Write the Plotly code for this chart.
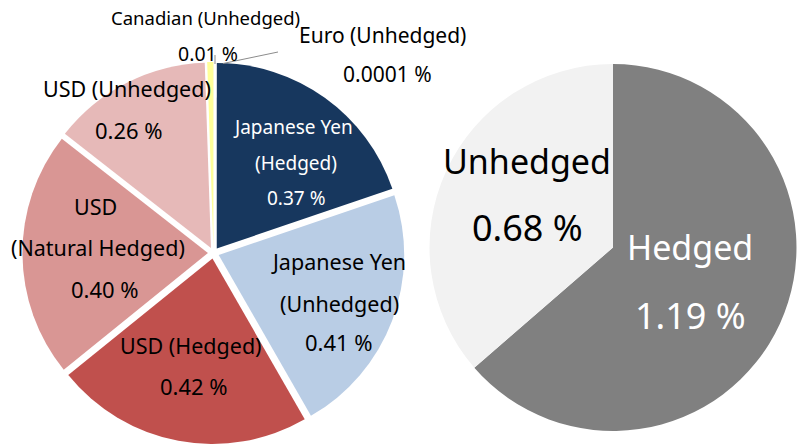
import plotly.graph_objects as go

W, H = 799, 445

# ---- data ----
left_labels = ["Euro (Unhedged)", "Japanese Yen (Hedged)", "Japanese Yen (Unhedged)",
               "USD (Hedged)", "USD (Natural Hedged)", "USD (Unhedged)", "Canadian (Unhedged)"]
left_values = [0.0001, 0.37, 0.41, 0.42, 0.40, 0.26, 0.01]
left_colors = ["#9BBB59", "#17375E", "#B9CDE5", "#C0504D", "#D99694", "#E6B9B8", "#FFFF99"]

right_labels = ["Hedged", "Unhedged"]
right_values = [1.19, 0.68]
right_colors = ["#808080", "#F2F2F2"]

FONT = "Noto Sans"


def px(x):
    return x / W


def py(y):
    return 1 - y / H


fig = go.Figure()
fig.add_trace(go.Pie(
    labels=left_labels, values=left_values, sort=False, direction="clockwise",
    rotation=0, pull=[0.03] * len(left_values),
    marker=dict(colors=left_colors, line=dict(width=0)),
    textinfo="none", showlegend=False,
    domain=dict(x=[0.0281, 0.5063], y=[0.0021, 0.8609]),
))
fig.add_trace(go.Pie(
    labels=right_labels, values=right_values, sort=False, direction="clockwise",
    rotation=0,
    marker=dict(colors=right_colors, line=dict(width=0)),
    textinfo="none", showlegend=False,
    domain=dict(x=[0.5375, 0.9969], y=[0.0315, 0.8562]),
))

# label lines: (text, x_center_px, y_center_px, size, color)
label_lines = [
    ("Canadian (Unhedged)", 205, 17.5, 18.5, "black"),
    ("0.01 %", 208, 53, 19.5, "black"),
    ("Euro (Unhedged)", 382.5, 35, 21, "black"),
    ("0.0001 %", 387, 74, 21, "black"),
    ("USD (Unhedged)", 127, 89, 21.5, "black"),
    ("0.26 %", 129, 130, 22, "black"),
    ("Japanese Yen", 292.5, 127, 19, "white"),
    ("(Hedged)", 296, 163, 19, "white"),
    ("0.37 %", 296, 198, 19, "white"),
    ("Japanese Yen", 338.5, 261, 21.5, "black"),
    ("(Unhedged)", 339, 303, 21.5, "black"),
    ("0.41 %", 339, 342, 22, "black"),
    ("USD (Hedged)", 191, 345, 21.5, "black"),
    ("0.42 %", 194, 386, 22, "black"),
    ("USD", 95, 206, 21.5, "black"),
    ("(Natural Hedged)", 98, 248, 21.5, "black"),
    ("0.40 %", 105, 289, 22, "black"),
    ("Unhedged", 527, 161, 34, "black"),
    ("0.68 %", 527.5, 227, 36, "black"),
    ("Hedged", 690, 247, 34, "white"),
    ("1.19 %", 690, 315, 36, "white"),
]

annotations = []
for text, x, y, size, color in label_lines:
    annotations.append(dict(
        text=text, x=px(x), y=py(y), xref="paper", yref="paper",
        xanchor="center", yanchor="middle", showarrow=False,
        font=dict(family=FONT, size=size, color=color),
    ))

# leader lines for the two tiny slices
leaders = [((215, 55), (215, 64)), ((223, 63.5), (278, 52))]
shapes = []
for (x0, y0), (x1, y1) in leaders:
    shapes.append(dict(type="line", xref="paper", yref="paper",
                       x0=px(x0), y0=py(y0), x1=px(x1), y1=py(y1),
                       line=dict(color="#8C8C8C", width=1)))

fig.update_layout(
    width=W, height=H, margin=dict(l=0, r=0, t=0, b=0),
    paper_bgcolor="white", plot_bgcolor="white",
    annotations=annotations, shapes=shapes, showlegend=False,
)

fig.write_html("out.html")
